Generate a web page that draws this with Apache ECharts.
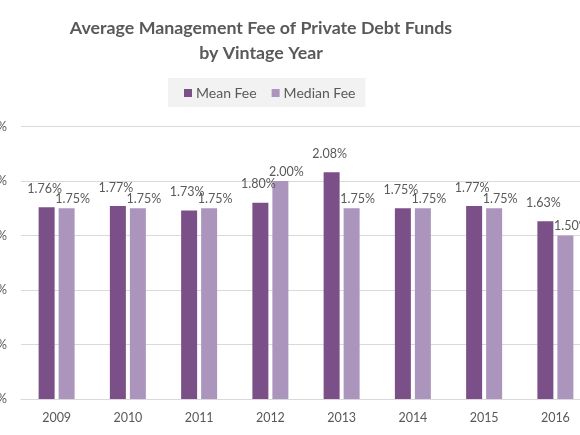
<!DOCTYPE html>
<html>
<head>
    <meta charset="utf-8">
    <title>Average Management Fee</title>
    <script src="https://cdn.jsdelivr.net/npm/echarts@6/dist/echarts.min.js"></script>
    <style>
    *{margin:0px; padding:0px;}
    body{background:#fff;}
    #main{width:580px; height:435px;}
    </style>
</head>
<body>
    <div id="main"></div>
    <script type="text/javascript">
        var years = ['2009', '2010', '2011', '2012', '2013', '2014', '2015', '2016'];
        var meanFee = [1.76, 1.77, 1.73, 1.80, 2.08, 1.75, 1.77, 1.63];
        var medianFee = [1.75, 1.75, 1.75, 2.00, 1.75, 1.75, 1.75, 1.50];

        var myChart = echarts.init(document.getElementById('main'));
        var textColor = '#595959';

        var option = {
            animation: false,
            textStyle: { fontFamily: 'Lato' },
            title: {
                text: 'Average Management Fee of Private Debt Funds\nby Vintage Year',
                left: 256,
                textAlign: 'center',
                top: 11,
                textStyle: {
                    color: textColor,
                    fontSize: 17.8,
                    fontWeight: 'bold',
                    fontFamily: 'Lato',
                    lineHeight: 25
                }
            },
            legend: {
                data: ['Mean Fee', 'Median Fee'],
                left: 168,
                top: 78,
                padding: [8, 10, 7, 16],
                backgroundColor: '#f2f2f2',
                itemWidth: 8,
                itemHeight: 8,
                itemGap: 15,
                icon: 'rect',
                textStyle: { color: textColor, fontSize: 14, padding: [0, 0, 0, -1] }
            },
            grid: {
                left: 21,
                right: -11,
                top: 126.5,
                bottom: 36,
                containLabel: false,
                outerBoundsMode: 'none'
            },
            xAxis: {
                type: 'category',
                data: years,
                axisLine: { lineStyle: { color: '#d9d9d9' } },
                axisTick: { show: false },
                axisLabel: { color: textColor, fontSize: 12.5, margin: 12 }
            },
            yAxis: {
                type: 'value',
                min: 0,
                max: 2.5,
                interval: 0.5,
                axisLine: { show: false },
                axisTick: { show: false },
                axisLabel: {
                    color: textColor,
                    fontSize: 12.5,
                    margin: 14,
                    formatter: function (v) { return v.toFixed(2) + '%'; }
                },
                splitLine: { lineStyle: { color: '#d9d9d9' } }
            },
            series: [
                {
                    name: 'Mean Fee',
                    type: 'bar',
                    data: meanFee,
                    barWidth: 16,
                    barGap: '25%',
                    itemStyle: { color: '#7b5089' },
                    label: {
                        show: true,
                        position: 'top',
                        distance: 12,
                        offset: [-2, 0],
                        color: textColor,
                        fontSize: 12.5,
                        formatter: function (p) { return p.value.toFixed(2) + '%'; }
                    }
                },
                {
                    name: 'Median Fee',
                    type: 'bar',
                    data: medianFee,
                    barWidth: 16,
                    itemStyle: { color: '#ac95bd' },
                    label: {
                        show: true,
                        position: 'top',
                        distance: 3,
                        offset: [6, 0],
                        color: textColor,
                        fontSize: 12.5,
                        formatter: function (p) { return p.value.toFixed(2) + '%'; }
                    }
                }
            ]
        };

        myChart.setOption(option);
    </script>
</body>
</html>
